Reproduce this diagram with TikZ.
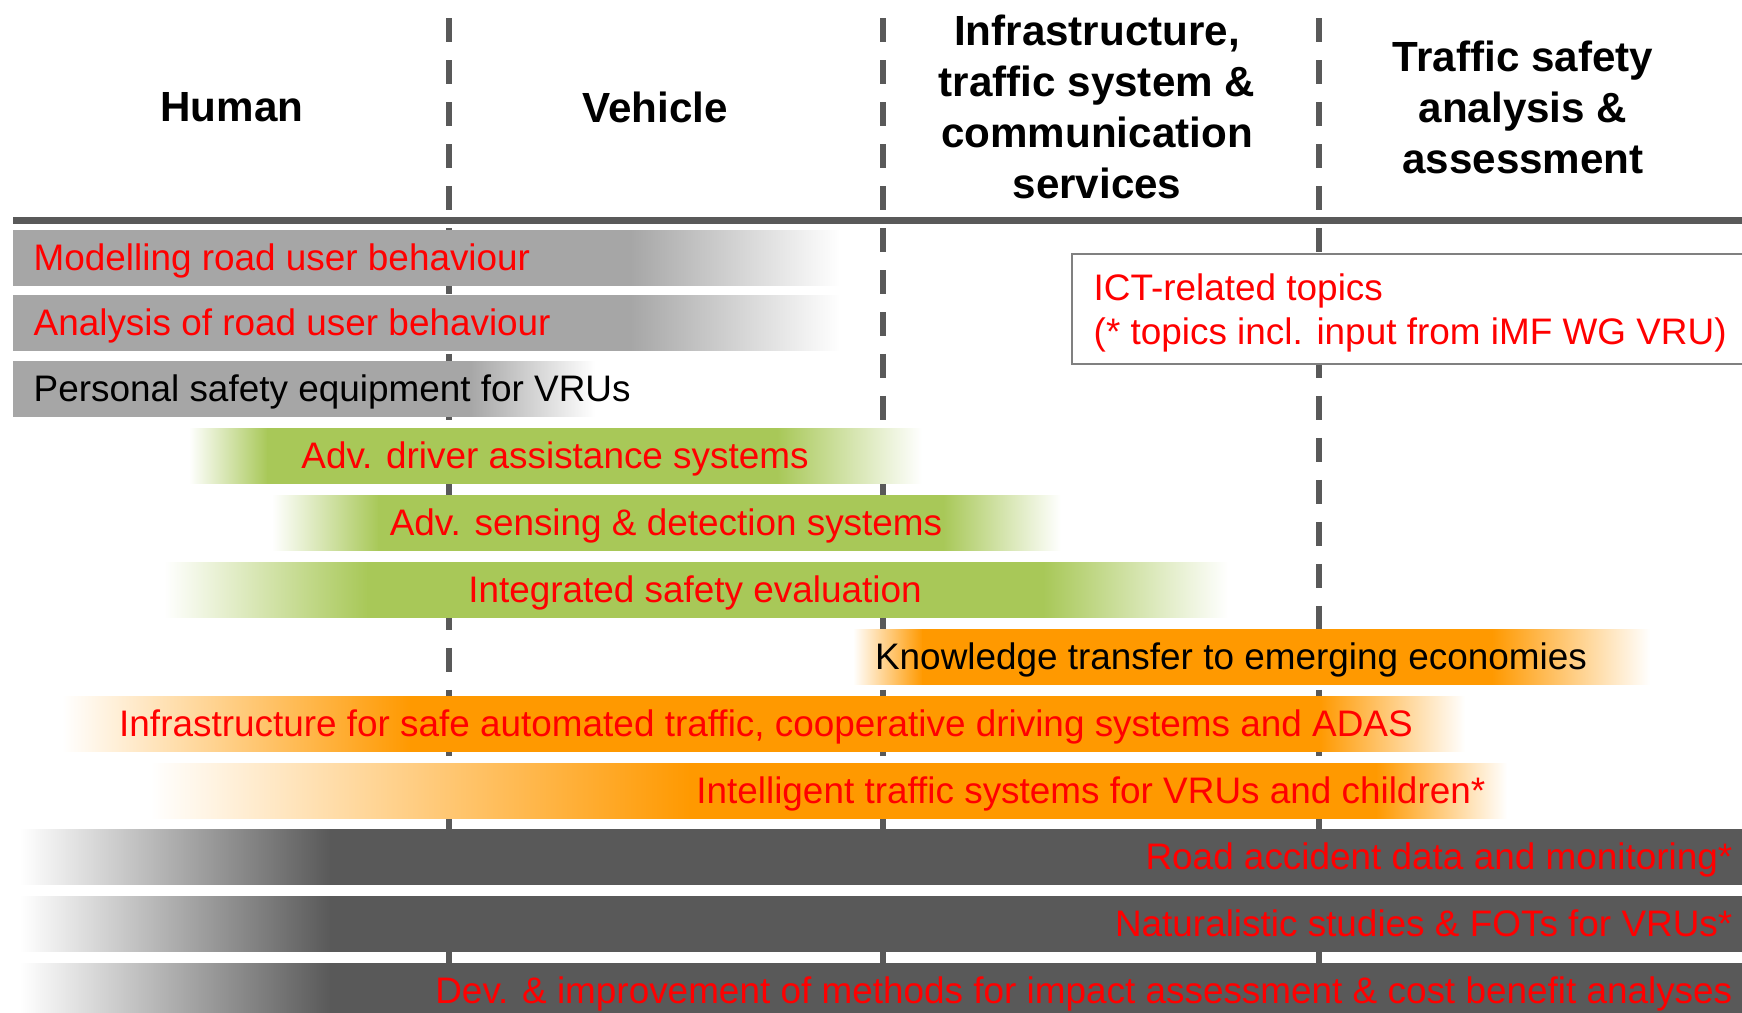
\documentclass[tikz,border=0pt]{standalone}
\usepackage{fontspec}
\setmainfont{Liberation Sans}
\definecolor{lg}{HTML}{A6A6A6}
\definecolor{dg}{HTML}{595959}
\definecolor{gr}{HTML}{A8C858}
\definecolor{orng}{HTML}{FF9900}
\definecolor{rd}{HTML}{FF0000}
\definecolor{boxline}{HTML}{808080}
% fade on both ends: top, x0 (white), x1 (solid), x2 (solid), x3 (white), colour
\newcommand\barLR[6]{%
  \shade[left color=white,right color=#6] (#2,#1) rectangle (#3+1,#1+55);
  \shade[left color=#6,right color=#6] (#3,#1) rectangle (#4,#1+55);
  \shade[left color=#6,right color=white] (#4-1,#1) rectangle (#5,#1+55);}
% solid on the left, fade to the right
\newcommand\barR[5]{%
  \shade[left color=#5,right color=#5] (#2,#1) rectangle (#3,#1+55);
  \shade[left color=#5,right color=white] (#3-1,#1) rectangle (#4,#1+55);}
% fade in from the left, solid to the right
\newcommand\barL[5]{%
  \shade[left color=white,right color=#5] (#2,#1) rectangle (#3+1,#1+55);
  \shade[left color=#5,right color=#5] (#3,#1) rectangle (#4,#1+55);}
\tikzset{
  hdr/.style={font=\fontsize{12}{14.5}\selectfont\bfseries, align=center, inner sep=0pt, anchor=center},
  txt/.style={font=\fontsize{10.5}{12.6}\selectfont, inner sep=0pt},
  vdash/.style={draw=dg, line width=1.71pt, dash pattern=on 6.83pt off 5.12pt}
}
\begin{document}
\begin{tikzpicture}[x=0.1mm,y=-0.1mm]
\useasboundingbox (0,0) rectangle (1742,1012);
\clip (0,0) rectangle (1742,1012);
\fill[white] (0,0) rectangle (1742,1012);

% column separators
\draw[vdash] (449,18) -- (449,1030);
\draw[vdash] (883,18) -- (883,1030);
\draw[vdash] (1319,18) -- (1319,1030);

% header line
\fill[dg] (13,217) rectangle (1760,224);

% column headers
\node[hdr] (h1) at (232,107) {Human};
\node[hdr] (h2) at (655,107) {Vehicle};
\node[hdr] (h3) at (1097,107) {Infrastructure,\\traffic system \&\\communication\\services};
\node[hdr] (h4) at (1523,107) {Traffic safety\\analysis \&\\assessment};

% bars
\barR{230}{13}{631}{840}{lg}
\barR{295}{13}{631}{840}{lg}
\barR{361}{13}{470}{595}{lg}
\barLR{428}{189}{267}{778}{922}{gr}
\barLR{495}{272}{378}{944}{1061}{gr}
\barLR{562}{164}{367}{1044}{1228}{gr}
\barLR{629}{853}{922}{1493}{1650}{orng}
\barLR{696}{62}{410}{1320}{1465}{orng}
\barLR{763}{150}{690}{1377}{1507}{orng}
\barL{829}{20}{330}{1760}{dg}
\barL{896}{20}{330}{1760}{dg}
\barL{963}{20}{330}{1760}{dg}

% bar texts
\node[txt, anchor=base west, text=rd] (t1) at (33,270) {Modelling road user behaviour};
\node[txt, anchor=base west, text=rd] (t2) at (33,335) {Analysis of road user behaviour};
\node[txt, anchor=base west, text=black] (t3) at (33,401) {Personal safety equipment for VRUs};
\node[txt, anchor=base, text=rd] (t4) at (555,468) {Adv. driver assistance systems};
\node[txt, anchor=base, text=rd] (t5) at (666,535) {Adv. sensing \& detection systems};
\node[txt, anchor=base, text=rd] (t6) at (695,602) {Integrated safety evaluation};
\node[txt, anchor=base, text=black] (t7) at (1231,669) {Knowledge transfer to emerging economies};
\node[txt, anchor=base, text=rd] (t8) at (766,736) {Infrastructure for safe automated traffic, cooperative driving systems and ADAS};
\node[txt, anchor=base east, text=rd] (t9) at (1486,803) {Intelligent traffic systems for VRUs and children*};
\node[txt, anchor=base east, text=rd] (t10) at (1733,869) {Road accident data and monitoring*};
\node[txt, anchor=base east, text=rd] (t11) at (1733,936) {Naturalistic studies \& FOTs for VRUs*};
\node[txt, anchor=base east, text=rd] (t12) at (1733,1003) {Dev. \& improvement of methods for impact assessment \& cost benefit analyses};

% ICT legend box
\draw[boxline, fill=white, line width=0.45pt] (1072,254) rectangle (1770,364);
\node[txt, anchor=base west, text=rd] (ict1) at (1093,300) {ICT-related topics};
\node[txt, anchor=base west, text=rd] (ict2) at (1093,344) {(* topics incl. input from iMF WG VRU)};
\end{tikzpicture}
\end{document}
